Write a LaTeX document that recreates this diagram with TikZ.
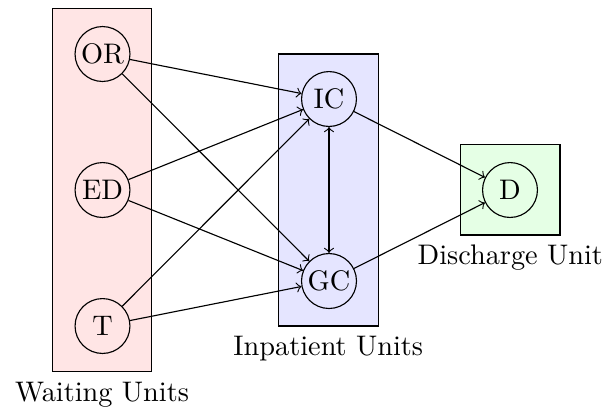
\documentclass[tikz,border=0pt]{standalone}
\usetikzlibrary{arrows}
\begin{document}
\begin{tikzpicture}[x=0.3534pt,y=-0.3534pt,
  unitbox/.style={draw,inner sep=0pt,outer sep=0pt,minimum width=35.1pt},
  unit/.style={draw,circle,inner sep=1pt,minimum size=19.4pt},
  boxlabel/.style={anchor=north},
  flow/.style={->}]
\useasboundingbox (0,0) rectangle (604,408);
% boxes
\node[unitbox,fill=red!10,minimum height=128.5pt] (wbox) at (102,190) {};
\node[unitbox,fill=blue!10,minimum height=96.1pt,minimum width=35.3pt] (ibox) at (328.3,190) {};
\node[unitbox,fill=green!10,minimum height=32.05pt] (dbox) at (510.3,189.7) {};
\node[boxlabel] (wlab) at (wbox.south) {Waiting Units};
\node[boxlabel] (ilab) at (ibox.south) {Inpatient Units};
\node[boxlabel] (dlab) at (dbox.south) {Discharge Unit};
% units
\node[unit] (OR) at (102.5,54) {OR};
\node[unit] (ED) at (102.5,190) {ED};
\node[unit] (T) at (102.5,326) {T};
\node[unit] (IC) at (329,99) {IC};
\node[unit] (GC) at (329,281) {GC};
\node[unit] (D) at (510,190) {D};
% flows
\draw[flow] (OR) -- (IC);
\draw[flow] (OR) -- (GC);
\draw[flow] (ED) -- (IC);
\draw[flow] (ED) -- (GC);
\draw[flow] (T) -- (IC);
\draw[flow] (T) -- (GC);
\draw[<->] (IC) -- (GC);
\draw[flow] (IC) -- (D);
\draw[flow] (GC) -- (D);
\end{tikzpicture}
\end{document}
